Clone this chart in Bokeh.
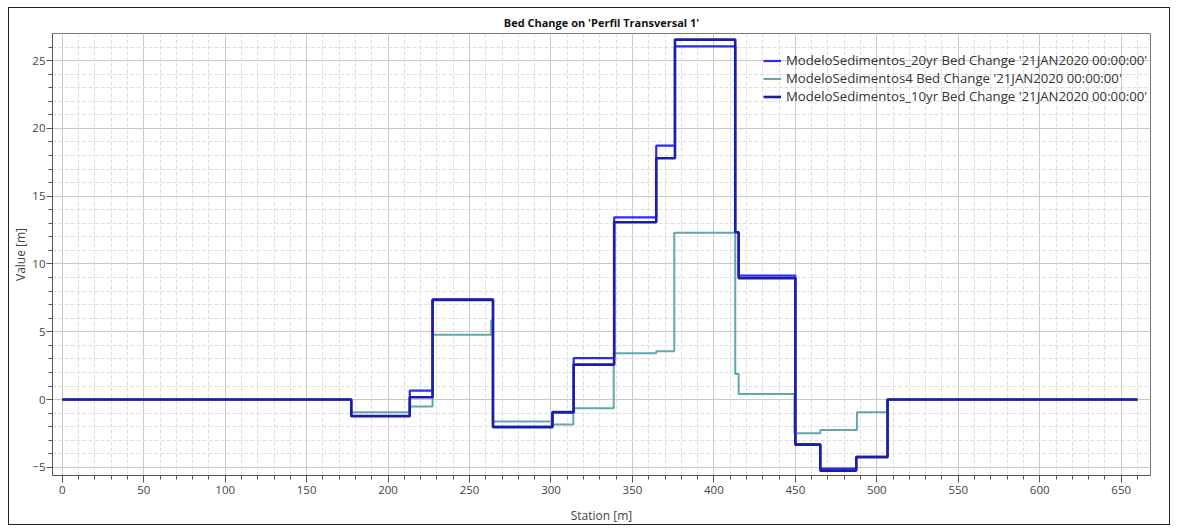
from bokeh.plotting import figure
from bokeh.models import FixedTicker, Legend, LegendItem
from bokeh.embed import file_html
from bokeh.resources import INLINE

# ---- data (station [m], bed change [m]) ----
st_20yr = [0, 177.4, 213.3, 227.3, 264.4, 300.9, 313.9, 338.8, 364.6, 376.1, 413.1, 415.2, 450.0, 465.3, 487.4, 506.6, 660]
val_20yr = [0, -1.20, 0.66, 7.40, -2.00, -0.90, 3.05, 13.44, 18.73, 26.05, 12.34, 9.14, -3.30, -5.10, -4.20, 0, 0]

st_4 = [0, 177.4, 213.0, 227.3, 263.3, 264.2, 300.9, 313.7, 338.5, 364.6, 375.7, 413.1, 415.2, 449.4, 465.3, 487.8, 506.2, 660]
val_4 = [0, -0.93, -0.52, 4.79, 5.83, -1.62, -1.84, -0.64, 3.41, 3.56, 12.30, 1.89, 0.42, -2.48, -2.24, -0.93, 0, 0]

st_10yr = [0, 177.4, 213.3, 227.3, 264.4, 300.9, 313.9, 338.8, 364.6, 376.1, 413.1, 415.2, 450.0, 465.3, 487.4, 506.6, 660]
val_10yr = [0, -1.23, 0.17, 7.35, -2.04, -0.95, 2.58, 13.08, 17.80, 26.55, 12.34, 8.95, -3.32, -5.24, -4.25, 0, 0]

names = [
    "ModeloSedimentos_20yr Bed Change '21JAN2020 00:00:00'",
    "ModeloSedimentos4 Bed Change '21JAN2020 00:00:00'",
    "ModeloSedimentos_10yr Bed Change '21JAN2020 00:00:00'",
]
x_ticks = list(range(0, 651, 50))
x_minor = list(range(0, 661, 10))
y_ticks = [-5, 0, 5, 10, 15, 20, 25]
y_minor = list(range(-5, 27))

FONT = "Open Sans"

p = figure(width=1162, height=518, output_backend="svg", toolbar_location=None,
           x_range=(-6, 668), y_range=(-5.6, 27.0),
           title="Bed Change on 'Perfil Transversal 1'",
           min_border_left=43, min_border_right=21, min_border_top=25, min_border_bottom=51)
p.styles = {"border": "1px solid #222", "margin-left": "8px", "margin-top": "7px"}

p.title.align = "center"
p.title.text_font = FONT
p.title.text_font_style = "bold"
p.title.text_font_size = "11px"
p.title.text_color = "#111"
p.title.standoff = 8

p.outline_line_color = "#777"
p.background_fill_color = "white"
p.border_fill_color = "white"

for ax, label in ((p.xaxis[0], "Station [m]"), (p.yaxis[0], "Value [m]")):
    ax.axis_label = label
    ax.axis_label_text_font = FONT
    ax.axis_label_text_font_style = "normal"
    ax.axis_label_text_font_size = "12px"
    ax.axis_label_text_color = "#444"
    ax.major_label_text_font = FONT
    ax.major_label_text_font_size = "11.5px"
    ax.major_label_text_color = "#444"
    ax.axis_line_color = "#555"
    ax.major_tick_line_color = "#555"
    ax.minor_tick_line_color = "#555"
    ax.major_tick_out = 7
    ax.major_tick_in = 0
    ax.minor_tick_out = 4
    ax.minor_tick_in = 0

p.xaxis[0].ticker = FixedTicker(ticks=x_ticks, minor_ticks=x_minor)
p.yaxis[0].ticker = FixedTicker(ticks=y_ticks, minor_ticks=y_minor)
p.xaxis[0].major_label_standoff = 3
p.xaxis[0].axis_label_standoff = 10
p.yaxis[0].major_tick_out = 6
p.yaxis[0].axis_label_standoff = 0
p.yaxis[0].major_label_standoff = 1

p.xgrid.ticker = p.xaxis[0].ticker
p.ygrid.ticker = p.yaxis[0].ticker
for g in (p.xgrid[0], p.ygrid[0]):
    g.grid_line_color = "#c9c9c9"
    g.grid_line_width = 1
    g.minor_grid_line_color = "#dedede"
    g.minor_grid_line_dash = "4 2"
    g.minor_grid_line_width = 1

r20 = p.step(st_20yr, val_20yr, mode="after", line_color="#2b2bf5", line_width=2.2)
r4 = p.step(st_4, val_4, mode="after", line_color="#62a8a8", line_width=2)
r10 = p.step(st_10yr, val_10yr, mode="after", line_color="#1c1ca6", line_width=2.6)

legend = Legend(items=[LegendItem(label=names[0], renderers=[r20]),
                       LegendItem(label=names[1], renderers=[r4]),
                       LegendItem(label=names[2], renderers=[r10])],
                location=(711, 370))
legend.background_fill_alpha = 0
legend.border_line_alpha = 0
legend.label_text_font = FONT
legend.label_text_font_size = "13.2px"
legend.label_text_color = "#333"
legend.glyph_width = 18
legend.glyph_height = 15
legend.label_height = 15
legend.spacing = 0
legend.padding = 0
legend.margin = 0
legend.label_standoff = 5
p.add_layout(legend)

open("out.html", "w").write(file_html(p, INLINE))
